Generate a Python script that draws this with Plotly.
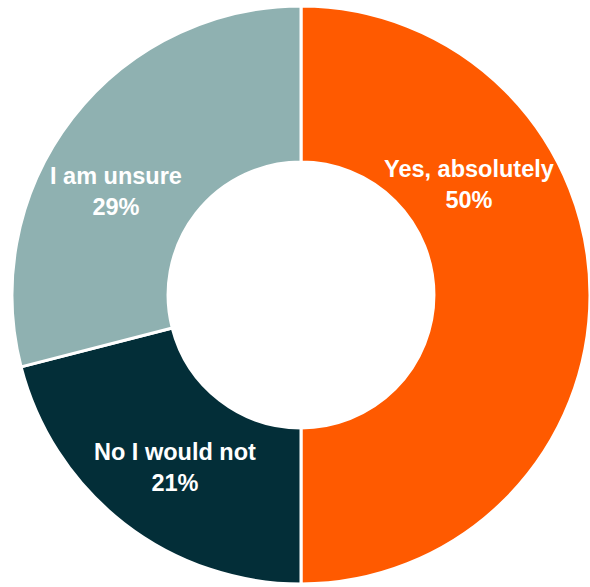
import plotly.graph_objects as go

labels = ["Yes, absolutely", "No I would not", "I am unsure"]
values = [50, 21, 29]
colors = ["#FF5A00", "#032E38", "#8FB1B1"]
# label anchor positions in paper fraction (x, y)
label_pos = [(0.795, 0.685), (0.296, 0.203), (0.196, 0.674)]

W, H = 590, 587
fig = go.Figure(go.Pie(
    labels=labels, values=values, hole=0.46, sort=False,
    direction="clockwise", rotation=0,
    marker=dict(colors=colors, line=dict(color="white", width=3)),
    textinfo="none", hoverinfo="label+percent",
    domain=dict(x=[12/W, 1.0], y=[0.0, 584/H]),
    showlegend=False,
))
for (lab, v, (x, y)) in zip(labels, values, label_pos):
    fig.add_annotation(x=x, y=y, xref="paper", yref="paper", showarrow=False,
                       xanchor="center", yanchor="middle",
                       text=f"<b>{lab}<br>{v}%</b>",
                       font=dict(family="Liberation Sans, Arial", size=23.5, color="white"),
                       align="center")
fig.update_layout(width=W, height=H, margin=dict(l=0, r=0, t=0, b=0),
                  paper_bgcolor="white", plot_bgcolor="white")
fig.write_html("out.html", config={"displayModeBar": False},
               post_script="document.body.style.margin='0';")
